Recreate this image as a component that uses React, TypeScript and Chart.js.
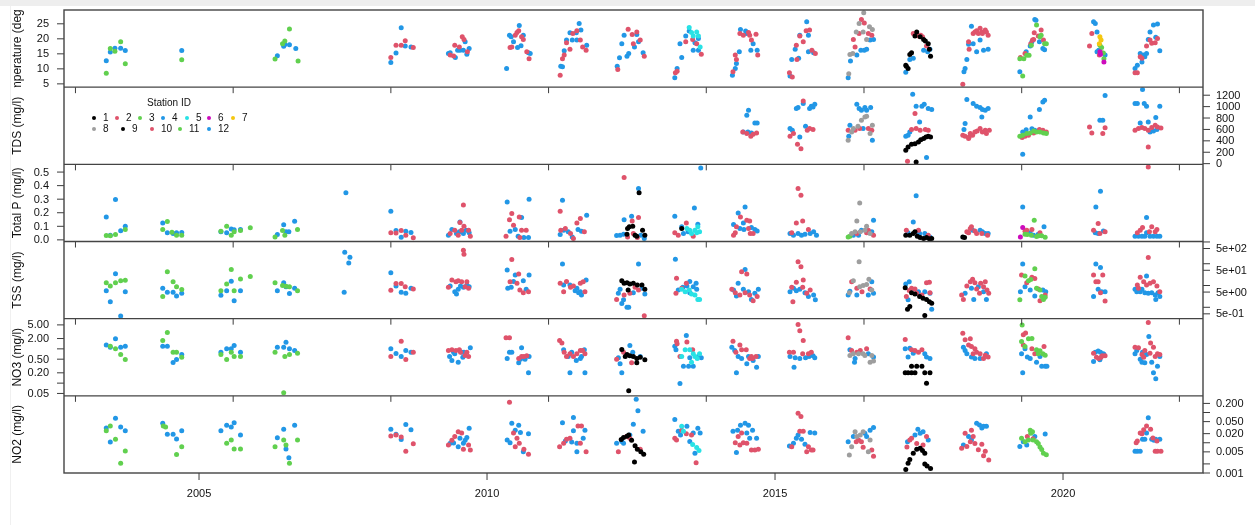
import React, { useEffect, useRef } from 'react';
import { Chart, registerables } from 'chart.js';

Chart.register(...registerables);

type Pt = [number, number];

// ---------------- Data: [decimal year, value] per station ----------------
// Temperature (deg C)
const temp_s1: Pt[] = [[2017.27,11.2],[2017.28,10.9],[2017.31,10.1],[2017.34,14.8],[2017.37,15.4],[2017.43,20.9],[2017.46,22.3],[2017.52,20.7],[2017.58,19.8],[2017.61,19.3],[2017.66,18.4],[2017.68,16.5],[2017.70,14.2]];
const temp_s2: Pt[] = [[2008.33,13.8],[2008.42,17.9],[2008.51,17.9],[2008.58,19.4],[2008.72,17.1],
[2009.36,14.6],[2009.42,14.3],[2009.44,17.9],[2009.52,17.3],[2009.57,20.7],[2009.60,19.8],[2009.66,15.7],
[2010.40,17.1],[2010.43,17.3],[2010.49,21.2],[2010.52,22.1],[2010.55,22.7],[2010.60,20.7],[2010.63,19.8],[2010.69,15.7],[2010.73,13.4],
[2011.27,7.9],[2011.31,13.4],[2011.34,14.6],[2011.38,18.7],[2011.44,16.5],[2011.49,21.8],[2011.56,22.7],[2011.62,19.6],[2011.66,17.3],[2011.72,16.2],
[2012.27,9.8],[2012.45,23.2],[2012.52,21.4],[2012.54,18.4],[2012.60,22.3],[2012.66,19.6],[2012.73,14.2],
[2013.27,8.7],[2013.30,9.2],[2013.45,19.0],[2013.57,19.8],[2013.64,18.4],[2013.72,14.9],
[2014.27,9.0],[2014.31,14.6],[2014.33,13.1],[2014.39,21.8],[2014.45,21.2],[2014.54,22.1],[2014.56,21.2],[2014.59,19.6],[2014.67,21.5],[2014.70,14.6],
[2015.25,8.7],[2015.30,7.3],[2015.37,17.9],[2015.38,13.1],[2015.43,20.9],[2015.49,19.0],[2015.54,22.7],[2015.60,22.9],[2015.64,16.2],[2015.70,15.1],
[2016.36,19.8],[2016.39,17.3],[2016.46,21.8],[2016.50,26.4],[2016.55,25.3],[2016.62,21.8],[2016.68,21.2],
[2017.40,21.8],[2017.49,20.9],[2017.53,21.2],[2017.56,20.7],[2017.63,17.6],
[2018.26,4.9],[2018.36,19.0],[2018.37,16.5],[2018.44,21.8],[2018.47,22.3],[2018.50,22.7],[2018.53,21.8],[2018.56,23.5],[2018.59,22.3],[2018.60,21.8],[2018.65,22.9],[2018.67,22.3],[2018.70,21.2],
[2019.26,13.8],[2019.34,15.1],[2019.44,18.4],[2019.47,19.6],[2019.49,19.8],[2019.50,22.0],[2019.57,20.9],[2019.62,22.9],[2019.66,19.6],
[2020.46,17.6],[2020.50,21.8],[2020.63,14.6],[2020.67,15.4],
[2021.25,8.7],[2021.29,8.7],[2021.34,14.0],[2021.37,13.5],[2021.45,17.6],[2021.51,19.6],[2021.54,18.5],[2021.60,18.7],[2021.64,20.1]];
const temp_s3: Pt[] = [[2003.39,8.5],[2003.46,16.8],[2003.54,15.9],[2003.64,19.0],[2003.72,11.7],[2004.70,13.0],
[2006.32,13.3],[2006.45,18.4],[2006.49,19.3],[2006.57,23.3],[2006.72,12.6],
[2019.25,13.4],[2019.30,7.6],[2019.32,13.4],[2019.37,14.5],[2019.41,14.5],[2019.45,17.9],[2019.54,24.6],[2019.60,20.7],[2019.62,21.2],[2019.68,18.4],[2019.71,18.4],
[2020.64,17.9],[2020.67,17.1],[2020.70,15.3],[2020.71,13.4]];
const temp_s4: Pt[] = [[2003.39,12.7],[2003.46,15.6],[2003.54,16.9],[2003.64,16.9],[2003.72,16.1],[2004.70,16.1],
[2006.36,14.4],[2006.47,17.5],[2006.49,18.1],[2006.57,18.0],[2006.68,16.8],
[2008.33,12.1],[2008.42,15.3],[2008.51,23.7],[2008.58,17.6],[2008.68,17.3],
[2009.33,15.1],[2009.36,15.4],[2009.45,13.8],[2009.49,16.2],[2009.53,16.2],[2009.59,16.2],[2009.62,19.0],[2009.65,14.9],[2009.69,16.8],
[2010.34,10.1],[2010.39,21.2],[2010.42,20.7],[2010.46,19.0],[2010.53,17.1],[2010.56,24.4],[2010.59,17.7],[2010.63,21.2],[2010.72,15.4],[2010.75,15.1],
[2011.28,10.9],[2011.31,10.7],[2011.34,16.0],[2011.38,19.6],[2011.44,22.0],[2011.48,19.6],[2011.55,22.0],[2011.56,19.6],[2011.60,25.1],[2011.63,22.9],[2011.73,17.9],
[2012.26,10.9],[2012.30,13.7],[2012.34,18.4],[2012.38,21.2],[2012.43,14.2],[2012.46,15.1],[2012.56,17.3],[2012.60,21.4],[2012.63,19.0],[2012.71,15.4],
[2013.26,7.0],[2013.30,10.1],[2013.35,18.4],[2013.38,13.8],[2013.45,20.9],[2013.51,22.6],[2013.58,16.2],[2013.61,18.7],[2013.67,16.2],[2013.67,20.1],
[2014.26,7.9],[2014.31,10.1],[2014.33,11.8],[2014.38,15.7],[2014.40,23.1],[2014.49,22.6],[2014.51,21.8],[2014.58,16.2],[2014.62,18.4],[2014.69,16.2],
[2015.26,7.6],[2015.29,13.1],[2015.35,16.5],[2015.41,13.5],[2015.43,21.2],[2015.55,25.7],[2015.58,21.2],[2015.58,15.7],[2015.67,15.4],
[2016.27,7.0],[2016.31,12.6],[2016.42,14.6],[2016.49,16.2],[2016.55,16.2],[2016.59,16.5],[2016.65,19.6],[2016.71,19.8],
[2017.27,8.9],[2017.34,13.1],[2017.40,13.5],[2017.58,16.2],[2017.65,15.7],[2017.69,16.5],
[2018.28,9.0],[2018.30,10.1],[2018.33,13.1],[2018.36,18.2],[2018.41,24.2],[2018.44,18.4],[2018.50,15.7],[2018.56,19.6],[2018.62,16.2],[2018.70,16.5],
[2019.25,9.0],[2019.36,15.7],[2019.43,17.6],[2019.46,19.0],[2019.51,26.4],[2019.53,26.2],[2019.59,19.0],[2019.65,16.8],[2019.68,16.4],
[2020.53,25.7],[2020.56,25.1],[2020.59,22.3],[2020.59,15.7],[2020.62,16.2],[2020.73,14.6],
[2021.25,10.1],[2021.29,11.2],[2021.34,15.1],[2021.37,12.3],[2021.40,14.6],[2021.42,14.0],[2021.45,15.1],[2021.48,19.8],[2021.51,22.3],[2021.57,24.6],[2021.61,20.5],[2021.64,24.9],[2021.68,16.0]];
const temp_s5: Pt[] = [[2013.51,23.8],[2013.55,22.1],[2013.58,20.9],[2013.64,22.3],[2013.67,20.9],[2013.70,17.3]];
const temp_s6: Pt[] = [[2020.64,15.7],[2020.65,14.9],[2020.71,12.3]];
const temp_s7: Pt[] = [[2020.63,18.4],[2020.64,20.7],[2020.66,19.6]];
const temp_s8: Pt[] = [[2016.28,8.4],[2016.30,14.8],[2016.35,15.1],[2016.41,22.3],[2016.46,25.1],[2016.53,22.3],[2016.54,28.7],[2016.59,19.8],[2016.64,24.0],[2016.69,23.1]];

// TDS (mg/l)
const tds_s1: Pt[] = [[2017.27,234],[2017.31,292],[2017.37,339],[2017.43,351],[2017.45,28],[2017.49,380],[2017.53,421],[2017.58,439],[2017.62,468],[2017.66,480],[2017.70,468]];
const tds_s2: Pt[] = [[2014.44,556],[2014.51,527],[2014.58,480],[2014.62,515],[2014.68,538],
[2015.26,480],[2015.32,527],[2015.39,339],[2015.45,263],[2015.49,1100],[2015.56,585],[2015.60,615],[2015.66,597],
[2016.27,585],[2016.39,585],[2016.47,615],[2016.62,615],[2016.68,585],
[2017.30,40],[2017.37,597],[2017.43,878],[2017.45,615],[2017.52,585],[2017.61,597],[2017.66,585],
[2018.26,497],[2018.30,480],[2018.36,439],[2018.37,468],[2018.39,527],[2018.43,497],[2018.47,556],[2018.51,573],[2018.56,615],[2018.60,556],[2018.65,585],[2018.67,527],[2018.72,585],
[2019.29,458],[2019.34,480],[2019.40,497],[2019.49,538],[2019.59,597],[2019.65,585],[2019.71,556],
[2020.46,643],[2020.50,538],[2020.69,527],[2020.73,631],
[2021.25,585],[2021.31,615],[2021.37,632],[2021.42,615],[2021.48,585],[2021.48,292],[2021.54,632],[2021.60,673],[2021.64,644],[2021.70,626]];
const tds_s3: Pt[] = [[2019.25,480],[2019.30,497],[2019.37,527],[2019.43,538],[2019.49,573],[2019.54,556],[2019.60,556],[2019.66,538],[2019.71,527]];
const tds_s4: Pt[] = [[2014.45,556],[2014.51,848],[2014.53,556],[2014.54,937],[2014.59,538],[2014.65,714],[2014.69,714],
[2015.26,615],[2015.30,585],[2015.37,966],[2015.40,984],[2015.43,468],[2015.49,1054],[2015.53,655],[2015.60,966],[2015.63,1007],[2015.66,995],[2015.69,1042],
[2016.28,480],[2016.30,673],[2016.42,1042],[2016.46,966],[2016.50,937],[2016.53,615],[2016.56,984],[2016.59,937],[2016.66,984],[2016.69,409],
[2017.27,480],[2017.31,497],[2017.34,556],[2017.39,1218],[2017.45,1007],[2017.51,731],[2017.55,1007],[2017.59,1042],[2017.63,110],[2017.66,966],[2017.72,948],
[2018.28,597],[2018.30,702],[2018.33,1124],[2018.44,1054],[2018.50,1007],[2018.56,984],[2018.59,819],[2018.60,948],[2018.65,937],[2018.70,966],
[2019.30,163],[2019.30,555],[2019.36,596],[2019.43,819],[2019.46,614],[2019.51,585],[2019.59,949],[2019.65,1083],[2019.68,1112],
[2020.64,761],[2020.69,761],[2020.73,1196],
[2021.25,1054],[2021.29,1054],[2021.34,714],[2021.38,1300],[2021.41,1054],[2021.45,1007],[2021.48,731],[2021.51,556],[2021.57,573],[2021.61,808],[2021.63,597],[2021.68,1007]];
const tds_s8: Pt[] = [[2016.27,409],[2016.33,556],[2016.36,615],[2016.44,655],[2016.50,761],[2016.56,819],[2016.59,831],[2016.65,527],[2016.69,673]];

// Total P (mg/l)
const p_s1: Pt[] = [[2012.43,0.042],[2012.44,0.084],[2012.47,0.096],[2012.53,0.10],[2012.57,0.035],[2012.60,0.027],[2012.64,0.348],[2012.70,0.071],[2012.74,0.035],[2013.38,0.084],
[2017.27,0.035],[2017.34,0.035],[2017.40,0.047],[2017.43,0.059],[2017.47,0.027],[2017.52,0.017],[2017.58,0.010],[2017.63,0.017],[2017.68,0.008],[2017.72,0.010],[2018.26,0.022],[2018.29,0.017]];
const p_s2: Pt[] = [[2008.33,0.052],[2008.42,0.05],[2008.51,0.069],[2008.59,0.035],[2008.72,0.016],
[2009.36,0.047],[2009.44,0.071],[2009.50,0.035],[2009.53,0.128],[2009.56,0.071],[2009.59,0.257],[2009.60,0.10],[2009.68,0.071],[2009.71,0.027],
[2010.33,0.027],[2010.39,0.149],[2010.43,0.194],[2010.46,0.108],[2010.56,0.169],[2010.57,0.017],[2010.60,0.071],[2010.68,0.071],
[2011.27,0.211],[2011.28,0.071],[2011.36,0.084],[2011.45,0.047],[2011.50,0.010],[2011.56,0.125],[2011.62,0.157],[2011.69,0.059],
[2012.38,0.459],[2012.44,0.022],[2012.52,0.140],[2012.54,0.047],[2012.61,0.017],[2012.63,0.165],
[2013.26,0.052],[2013.32,0.035],[2013.46,0.125],[2013.58,0.027],
[2014.28,0.035],[2014.31,0.052],[2014.33,0.096],[2014.40,0.169],[2014.51,0.145],[2014.54,0.084],[2014.56,0.140],[2014.57,0.047],[2014.62,0.047],
[2015.29,0.052],[2015.37,0.125],[2015.40,0.378],[2015.45,0.329],[2015.48,0.140],[2015.58,0.076],
[2016.42,0.047],[2016.59,0.052],[2016.62,0.071],[2016.71,0.035],
[2017.28,0.071],[2017.49,0.071],[2017.66,0.035],
[2018.33,0.059],[2018.36,0.052],[2018.39,0.084],[2018.41,0.096],[2018.47,0.066],[2018.50,0.047],[2018.59,0.047],[2018.69,0.035],
[2019.34,0.064],[2019.37,0.071],[2019.46,0.076],[2019.60,0.052],
[2020.53,0.071],[2020.61,0.121],[2020.64,0.047],[2020.73,0.059],
[2021.29,0.052],[2021.34,0.071],[2021.38,0.091],[2021.48,0.537],[2021.50,0.059],[2021.54,0.096],[2021.60,0.059],[2021.63,0.076]];
const p_s3: Pt[] = [[2003.39,0.032],[2003.46,0.03],[2003.55,0.04],[2003.72,0.076],[2004.37,0.077],[2004.45,0.135],[2004.53,0.057],[2004.61,0.035],[2004.70,0.035],
[2005.38,0.064],[2005.48,0.10],[2005.56,0.035],[2005.61,0.06],[2005.72,0.07],[2005.89,0.09],[2006.32,0.022],[2006.45,0.07],[2006.49,0.035],[2006.71,0.077],
[2016.27,0.022],[2016.30,0.027],[2019.34,0.042],[2019.38,0.04],[2019.45,0.035],[2019.50,0.145],[2019.54,0.024],[2019.58,0.03],[2019.63,0.03],[2019.69,0.02]];
const p_s4: Pt[] = [[2003.39,0.169],[2003.46,0.035],[2003.55,0.297],[2003.64,0.067],[2003.72,0.10],
[2004.37,0.125],[2004.45,0.052],[2004.55,0.047],[2004.61,0.052],[2004.70,0.054],
[2005.38,0.059],[2005.48,0.052],[2005.56,0.08],[2005.61,0.075],[2005.72,0.077],
[2006.36,0.04],[2006.47,0.112],[2006.51,0.06],[2006.56,0.06],[2006.66,0.138],
[2007.55,0.348],
[2008.33,0.211],[2008.42,0.069],[2008.51,0.02],[2008.59,0.064],[2008.68,0.054],
[2009.33,0.035],[2009.39,0.076],[2009.47,0.047],[2009.52,0.059],[2009.53,0.132],[2009.59,0.047],[2009.64,0.071],[2009.69,0.052],
[2010.35,0.28],[2010.40,0.064],[2010.49,0.076],[2010.54,0.027],[2010.60,0.165],[2010.64,0.017],[2010.72,0.017],[2010.73,0.30],
[2011.27,0.039],[2011.31,0.292],[2011.33,0.071],[2011.41,0.059],[2011.48,0.022],[2011.58,0.076],[2011.64,0.064],[2011.73,0.182],
[2012.25,0.032],[2012.31,0.035],[2012.37,0.042],[2012.38,0.149],[2012.51,0.174],[2012.63,0.378],[2012.67,0.035],[2012.73,0.010],
[2013.26,0.174],[2013.38,0.096],[2013.41,0.047],[2013.49,0.059],[2013.60,0.235],[2013.66,0.115],[2013.71,0.53],
[2014.28,0.113],[2014.36,0.199],[2014.39,0.084],[2014.45,0.125],[2014.46,0.076],[2014.48,0.243],[2014.59,0.091],[2014.65,0.076],[2014.69,0.066],
[2015.26,0.047],[2015.32,0.035],[2015.40,0.047],[2015.46,0.035],[2015.52,0.042],[2015.61,0.047],[2015.67,0.059],[2015.72,0.035],
[2016.36,0.035],[2016.45,0.035],[2016.50,0.071],[2016.68,0.059],[2016.71,0.145],
[2017.31,0.052],[2017.40,0.132],[2017.45,0.326],[2017.51,0.047],[2017.60,0.047],[2017.69,0.022],
[2018.43,0.071],[2018.56,0.071],[2018.60,0.059],[2018.65,0.047],[2018.70,0.047],
[2019.30,0.243],[2019.43,0.052],[2019.49,0.035],[2019.57,0.042],[2019.67,0.096],
[2020.56,0.052],[2020.57,0.243],[2020.61,0.047],[2020.65,0.358],[2020.70,0.066],
[2021.25,0.027],[2021.31,0.027],[2021.37,0.027],[2021.42,0.027],[2021.45,0.165],[2021.45,0.052],[2021.51,0.027],[2021.57,0.027],[2021.63,0.027],[2021.68,0.027]];
const p_s5: Pt[] = [[2013.47,0.084],[2013.52,0.071],[2013.55,0.047],[2013.61,0.071],[2013.64,0.052],[2013.66,0.096],[2013.69,0.059]];
const p_s6: Pt[] = [[2019.26,0.022],[2019.30,0.091]];
const p_s8: Pt[] = [[2016.33,0.047],[2016.39,0.059],[2016.42,0.140],[2016.47,0.272],[2016.48,0.059],[2016.56,0.071],[2016.59,0.10],[2016.65,0.047]];

// TSS (mg/l)
const tss_s1: Pt[] = [[2012.34,16.6],[2012.38,12.6],[2012.43,13.4],[2012.45,6.2],[2012.48,11.7],[2012.54,12.6],[2012.61,10.5],[2012.69,10.5],[2012.74,6.7],
[2017.26,7.9],[2017.30,0.81],[2017.34,1.1],[2017.37,4.7],[2017.43,4.1],[2017.51,3.1],[2017.57,2.6],[2017.60,0.42],[2017.63,2.3],[2017.68,1.8],[2017.72,1.54]];
const tss_s2: Pt[] = [[2008.33,6.1],[2008.42,12.5],[2008.51,12.5],[2008.58,8.8],[2008.72,6.9],
[2009.33,8.3],[2009.39,17.9],[2009.46,14.9],[2009.50,16.4],[2009.56,14.9],[2009.59,420],[2009.60,270],[2009.62,8.8],[2009.65,14.9],[2009.68,7.5],
[2010.40,14.9],[2010.43,157],[2010.52,12.6],[2010.55,33.6],[2010.57,6.2],[2010.63,4.7],[2010.72,5.2],
[2011.27,12.6],[2011.33,5.2],[2011.38,15.2],[2011.45,8.3],[2011.50,9.5],[2011.62,12.6],[2011.67,14.9],[2011.70,5.2],
[2012.25,2.3],[2012.38,3.7],[2012.48,4.4],[2012.57,8.3],[2012.63,6.2],[2012.73,0.41],
[2013.28,4.4],[2013.29,21.3],[2013.38,7.5],[2013.46,12.6],
[2014.25,6.7],[2014.31,4.7],[2014.39,3.7],[2014.42,42.6],[2014.48,4.7],[2014.51,33.6],[2014.56,3.7],[2014.62,2.0],[2014.69,3.1],
[2015.29,8.3],[2015.31,1.8],[2015.37,14],[2015.40,122],[2015.45,72],[2015.48,8.3],[2015.49,17.9],[2015.55,4.4],[2015.61,6.2],
[2016.33,15],[2016.42,7.4],[2016.51,5.2],[2016.65,6.9],
[2017.28,3.1],[2017.33,5.9],[2017.37,7.4],[2017.43,6.9],[2017.46,4.4],[2017.55,3.7],[2017.63,13.4],[2017.68,14],[2017.69,4.7],
[2018.24,3.7],[2018.27,2.3],[2018.33,9.5],[2018.39,15],[2018.43,19.2],[2018.47,13.4],[2018.50,6.9],[2018.55,4.4],[2018.57,12.6],[2018.62,8.8],[2018.65,15],[2018.68,6.3],[2018.71,4.4],
[2019.28,30],[2019.37,13.4],[2019.46,23.7],[2019.51,21],[2019.57,6.9],[2019.60,2.0],[2019.69,3.7],
[2020.53,30],[2020.57,15],[2020.61,15],[2020.65,4.7],[2020.69,30],[2020.73,1.96],
[2021.29,10.5],[2021.31,7.5],[2021.34,23.7],[2021.40,14.9],[2021.45,10.5],[2021.48,195],[2021.51,12.6],[2021.57,14.9],[2021.63,9.5],[2021.68,5.2]];
const tss_s3: Pt[] = [[2003.39,13.4],[2003.46,9.5],[2003.55,13.4],[2003.64,16.6],[2003.72,17.3],
[2004.37,3.1],[2004.45,42.8],[2004.55,14.9],[2004.61,8.8],[2004.70,6.5],
[2005.38,5.8],[2005.48,11.7],[2005.56,55],[2005.61,5.8],[2005.72,19.8],[2005.89,25.9],
[2006.32,13.4],[2006.45,10],[2006.51,9.2],[2006.57,8.8],[2006.71,5.8],
[2019.25,2.2],[2019.34,27],[2019.40,16.6],[2019.44,19],[2019.51,59],[2019.54,7.4],[2019.60,6.3],[2019.63,3.1],[2019.66,2.3],[2019.69,2.9]];
const tss_s4: Pt[] = [[2003.39,5.8],[2003.46,1.8],[2003.55,34.6],[2003.64,0.40],[2003.72,5.2],
[2004.37,7.4],[2004.45,4.9],[2004.55,4.9],[2004.61,3.3],[2004.70,4.4],
[2005.38,3.6],[2005.48,5.8],[2005.56,15.8],[2005.61,2.0],[2005.72,5.8],
[2006.36,5.8],[2006.47,13.4],[2006.51,8.8],[2006.57,4.3],[2006.66,7.4],
[2007.52,4.9],[2007.53,340],[2007.60,107],[2007.62,200],
[2008.33,38.5],[2008.42,9.5],[2008.51,4.9],[2008.59,4.4],[2008.68,7.4],
[2009.36,9.5],[2009.44,5.2],[2009.47,4.1],[2009.50,6.7],[2009.54,9.5],[2009.59,8.3],[2009.65,10.5],[2009.69,8.8],
[2010.35,51],[2010.36,7.5],[2010.42,8.3],[2010.46,15.2],[2010.49,30],[2010.63,16.6],[2010.68,6.7],[2010.73,30],
[2011.31,96],[2011.33,10.5],[2011.44,10.5],[2011.53,5.8],[2011.56,7.5],[2011.59,4.7],[2011.62,5.2],[2011.64,3.7],[2011.72,17.9],
[2012.28,4.4],[2012.31,6.7],[2012.34,1.5],[2012.37,2.2],[2012.43,1.0],[2012.46,1.0],[2012.54,4.7],[2012.63,96],[2012.69,7.5],[2012.74,4.1],
[2013.27,162],[2013.32,6.2],[2013.40,8.3],[2013.47,9.5],[2013.52,15.2],[2013.52,4.7],[2013.58,8.8],[2013.63,12.6],[2013.64,6.7],
[2014.28,6.2],[2014.33,3.3],[2014.36,12.6],[2014.45,6.7],[2014.48,55],[2014.54,5.2],[2014.59,2.3],[2014.65,4.4],[2014.71,6.7],
[2015.26,5.2],[2015.32,7.5],[2015.37,5.8],[2015.43,6.7],[2015.52,4.7],[2015.58,3.1],[2015.67,3.7],[2015.70,2.2],
[2016.27,3.7],[2016.30,5.5],[2016.42,3.7],[2016.62,3.7],[2016.68,15],[2016.71,4.4],
[2017.27,11.7],[2017.31,2.2],[2017.33,15],[2017.49,5.2],[2017.60,5.2],[2017.69,4.4],[2017.72,0.81],
[2018.30,4.4],[2018.41,7.4],[2018.45,2.3],[2018.53,8.8],[2018.62,5.2],[2018.67,2.3],
[2019.26,5.2],[2019.30,96],[2019.34,8.8],[2019.43,6.3],[2019.51,3.3],[2019.65,6.3],[2019.70,5.2],
[2020.53,3.1],[2020.57,96],[2020.61,6.7],[2020.65,68],[2020.67,5.2],[2020.73,5.2],
[2021.25,6.7],[2021.28,5.2],[2021.34,5.2],[2021.37,6.7],[2021.42,4.7],[2021.45,27],[2021.48,4.4],[2021.54,4.7],[2021.60,3.7],[2021.61,2.3],[2021.65,4.7],[2021.68,3.1]];
const tss_s5: Pt[] = [[2013.38,6.7],[2013.44,5.2],[2013.51,6.2],[2013.55,4.1],[2013.61,3.7],[2013.66,2.3],[2013.69,2.3]];
const tss_s8: Pt[] = [[2016.29,4.7],[2016.36,16.6],[2016.46,122],[2016.47,8.8],[2016.53,10],[2016.59,11],[2016.63,19.2],[2016.68,6.3]];

// NO3 (mg/l)
const no3_s1: Pt[] = [[2012.34,0.96],[2012.40,0.6],[2012.43,0.69],[2012.46,0.06],[2012.48,0.63],[2012.54,0.6],[2012.60,0.52],[2012.60,0.39],[2012.66,0.57],[2012.74,0.48],
[2017.26,0.2],[2017.31,0.2],[2017.37,0.2],[2017.37,0.31],[2017.43,0.2],[2017.46,0.31],[2017.55,0.31],[2017.60,0.2],[2017.63,0.10],[2017.69,0.2]];
const no3_s2: Pt[] = [[2008.33,0.6],[2008.51,1.67],[2008.59,0.49],[2008.72,0.8],
[2009.33,0.9],[2009.39,0.94],[2009.46,0.9],[2009.52,0.94],[2009.54,0.8],[2009.62,0.64],[2009.65,0.8],[2009.68,0.6],
[2010.33,2.1],[2010.39,2.1],[2010.55,0.52],[2010.60,0.6],[2010.64,0.6],[2010.69,0.63],
[2011.26,1.75],[2011.30,1.47],[2011.34,0.8],[2011.38,0.6],[2011.44,0.72],[2011.50,0.6],[2011.56,0.72],[2011.62,0.9],[2011.66,0.9],[2011.70,0.72],
[2012.25,0.5],[2012.37,0.8],[2012.51,0.39],
[2013.29,1.67],[2013.30,1.4],[2013.35,0.6],[2013.47,1.58],[2013.57,0.94],
[2014.27,1.67],[2014.32,0.8],[2014.39,1.3],[2014.42,0.94],[2014.50,0.94],[2014.56,0.52],[2014.59,0.6],[2014.61,0.52],[2014.67,0.6],
[2015.25,0.8],[2015.32,0.8],[2015.40,5.1],[2015.43,3.4],[2015.48,0.72],[2015.49,1.75],[2015.58,0.72],[2015.63,0.8],
[2016.27,2.1],[2016.33,0.9],[2016.42,0.8],[2016.48,0.9],[2016.59,1.0],
[2017.26,1.87],[2017.37,0.94],[2017.43,0.9],[2017.49,0.8],[2017.55,0.94],
[2018.26,2.86],[2018.30,1.84],[2018.36,1.3],[2018.39,1.96],[2018.41,1.17],[2018.44,0.72],[2018.47,1.0],[2018.50,0.8],[2018.56,0.72],[2018.62,0.52],[2018.65,0.65],[2018.70,0.58],
[2019.31,2.6],[2019.31,1.3],[2019.35,2.9],[2019.46,1.0],[2019.51,0.72],[2019.67,1.17],
[2020.53,0.75],[2020.58,0.57],[2020.62,0.52],[2020.66,0.57],[2020.68,0.63],[2020.73,0.63],
[2021.25,1.12],[2021.31,1.08],[2021.37,0.69],[2021.40,0.57],[2021.42,0.9],[2021.48,5.9],[2021.51,0.75],[2021.52,1.47],[2021.57,1.12],[2021.60,0.6],[2021.64,0.72],[2021.68,0.69]];
const no3_s3: Pt[] = [[2003.46,1.2],[2003.55,1.0],[2003.64,0.69],[2003.72,0.49],
[2004.37,1.75],[2004.45,3.0],[2004.55,0.8],[2004.61,0.8],[2004.70,0.57],
[2005.38,0.69],[2005.48,0.49],[2005.56,0.8],[2005.61,0.6],[2005.72,0.6],
[2006.32,0.8],[2006.47,0.052],[2006.49,0.6],[2006.57,0.69],[2006.71,0.75],
[2019.28,1.64],[2019.29,5.0],[2019.34,1.17],[2019.40,1.96],[2019.46,2.0],[2019.54,0.94],[2019.57,0.72],[2019.60,0.88],[2019.65,0.72],[2019.69,0.65]];
const no3_s4: Pt[] = [[2003.39,1.3],[2003.46,1.12],[2003.55,1.96],[2003.64,1.12],[2003.72,1.2],
[2004.37,1.2],[2004.45,1.2],[2004.55,0.40],[2004.61,0.49],[2004.70,0.69],
[2005.38,0.80],[2005.48,1.0],[2005.56,1.0],[2005.61,1.26],[2005.72,0.80],
[2006.36,1.12],[2006.47,1.12],[2006.51,1.57],[2006.57,1.0],[2006.66,0.9],
[2008.33,1.0],[2008.42,0.73],[2008.51,0.6],[2008.59,0.9],[2008.68,0.8],
[2009.35,0.6],[2009.39,0.46],[2009.42,0.80],[2009.44,0.72],[2009.50,0.41],[2009.56,0.8],[2009.58,0.57],[2009.60,0.8],[2009.71,1.08],
[2010.35,0.52],[2010.39,0.8],[2010.43,0.8],[2010.55,0.39],[2010.58,0.5],[2010.60,1.08],[2010.66,0.5],[2010.72,0.2],[2010.73,0.6],
[2011.33,0.94],[2011.41,0.6],[2011.44,0.2],[2011.47,0.8],[2011.55,0.46],[2011.62,0.52],[2011.64,0.6],[2011.69,0.94],[2011.70,0.2],
[2012.28,0.55],[2012.31,0.37],[2012.34,0.2],[2012.48,1.26],[2012.53,0.8],[2012.66,0.6],
[2013.26,1.2],[2013.28,0.94],[2013.35,0.098],[2013.41,0.31],[2013.46,2.45],[2013.50,0.31],[2013.52,0.55],[2013.58,0.31],[2013.67,0.6],[2013.72,0.55],
[2014.25,1.12],[2014.30,0.9],[2014.33,0.2],[2014.36,0.6],[2014.42,0.52],[2014.51,0.37],[2014.54,0.6],[2014.62,0.46],[2014.68,0.29],[2014.71,0.6],
[2015.26,0.6],[2015.33,0.29],[2015.35,0.55],[2015.43,0.52],[2015.53,0.55],[2015.59,0.6],[2015.66,0.63],[2015.69,0.55],
[2016.30,0.94],[2016.38,0.41],[2016.39,0.52],[2016.62,0.72],[2016.71,0.58],
[2017.26,1.0],[2017.31,0.58],[2017.34,1.05],[2017.40,0.75],[2017.60,0.72],[2017.63,0.58],[2017.69,0.52],
[2018.27,1.12],[2018.30,0.9],[2018.33,0.72],[2018.41,0.58],[2018.47,0.52],[2018.56,0.52],[2018.67,0.72],
[2019.28,0.72],[2019.30,0.2],[2019.34,1.0],[2019.38,0.58],[2019.43,0.52],[2019.54,0.41],[2019.60,0.6],[2019.63,0.31],[2019.69,0.31],[2019.72,0.31],
[2020.53,0.43],[2020.56,0.8],[2020.61,0.86],[2020.64,0.48],[2020.65,0.8],[2020.70,0.72],[2020.71,0.69],
[2021.25,0.72],[2021.28,0.9],[2021.34,0.5],[2021.37,0.41],[2021.38,0.8],[2021.42,0.39],[2021.45,0.69],[2021.49,2.3],[2021.54,0.41],[2021.57,0.2],[2021.61,0.135],[2021.64,0.31],[2021.68,0.6]];
const no3_s5: Pt[] = [[2013.38,0.6],[2013.44,0.94],[2013.52,0.94],[2013.55,0.41],[2013.58,0.72],[2013.61,0.6],[2013.65,0.52],[2013.69,0.72]];
const no3_s8: Pt[] = [[2016.30,0.64],[2016.36,0.72],[2016.45,0.72],[2016.53,0.72],[2016.56,0.64],[2016.65,0.41],[2016.68,0.64],[2016.71,0.44]];

// NO2 (mg/l)
const no2_s1: Pt[] = [[2012.33,0.0129],[2012.37,0.015],[2012.43,0.0165],[2012.46,0.018],[2012.51,0.012],[2012.56,0.0023],[2012.57,0.008],[2012.61,0.0061],[2012.67,0.005],[2012.72,0.0042],
[2017.27,0.0013],[2017.31,0.0021],[2017.34,0.0028],[2017.40,0.0045],[2017.46,0.0061],[2017.52,0.0066],[2017.56,0.0055],[2017.60,0.0045],[2017.60,0.002],[2017.64,0.0017],[2017.70,0.0014]];
const no2_s2: Pt[] = [[2008.33,0.0167],[2008.42,0.018],[2008.51,0.0155],[2008.59,0.0052],[2008.72,0.0093],
[2009.33,0.0084],[2009.39,0.012],[2009.44,0.016],[2009.50,0.023],[2009.56,0.021],[2009.59,0.0061],[2009.68,0.0084],[2009.71,0.0058],
[2010.39,0.22],[2010.46,0.021],[2010.49,0.0074],[2010.52,0.014],[2010.56,0.0096],[2010.64,0.0061],[2010.72,0.0042],
[2011.26,0.0074],[2011.33,0.0096],[2011.38,0.013],[2011.44,0.014],[2011.58,0.036],[2011.62,0.0096],[2011.64,0.036],[2011.72,0.005],
[2012.28,0.005],[2012.42,0.016],[2012.48,0.014],[2012.66,0.0061],
[2013.26,0.014],[2013.29,0.0123],[2013.38,0.026],[2013.46,0.02],[2013.55,0.018],[2013.63,0.0022],
[2014.31,0.01],[2014.36,0.016],[2014.39,0.0085],[2014.42,0.021],[2014.45,0.01],[2014.51,0.0096],[2014.59,0.0058],[2014.65,0.0058],[2014.71,0.0061],
[2015.29,0.0074],[2015.40,0.094],[2015.43,0.024],[2015.45,0.074],[2015.49,0.024],[2015.55,0.005],[2015.58,0.0074],[2015.63,0.0058],[2015.66,0.0058],
[2016.41,0.0108],[2016.45,0.0123],[2016.50,0.0108],[2016.53,0.0071],[2016.68,0.0058],[2016.71,0.0036],
[2017.29,0.0072],[2017.34,0.0123],[2017.37,0.014],[2017.46,0.0095],[2017.57,0.0085],[2017.63,0.016],
[2018.24,0.0066],[2018.30,0.0205],[2018.33,0.0075],[2018.39,0.0108],[2018.41,0.026],[2018.44,0.016],[2018.47,0.0095],[2018.53,0.0059],[2018.59,0.009],[2018.62,0.0037],[2018.65,0.0052],[2018.71,0.0027],
[2019.38,0.016],[2019.48,0.0135],
[2021.27,0.01],[2021.29,0.0114],[2021.34,0.021],[2021.37,0.02],[2021.40,0.027],[2021.45,0.036],[2021.52,0.028],[2021.56,0.0145],[2021.60,0.0052],[2021.63,0.0114],[2021.64,0.0052],[2021.70,0.0052]];
const no2_s3: Pt[] = [[2003.39,0.025],[2003.46,0.036],[2003.55,0.013],[2003.64,0.0021],[2003.72,0.0053],
[2004.38,0.036],[2004.42,0.033],[2004.61,0.0041],[2004.70,0.0074],
[2005.48,0.0096],[2005.56,0.0123],[2005.61,0.0062],[2005.72,0.0062],
[2006.32,0.0074],[2006.47,0.0123],[2006.51,0.0084],[2006.57,0.0021],[2006.71,0.0123],
[2019.28,0.014],[2019.34,0.0108],[2019.40,0.0123],[2019.43,0.026],[2019.44,0.0205],[2019.47,0.023],[2019.48,0.0123],[2019.54,0.0108],[2019.57,0.0095],[2019.60,0.0072],[2019.63,0.006],[2019.66,0.0045],[2019.71,0.004]];
const no2_s4: Pt[] = [[2003.39,0.031],[2003.46,0.0106],[2003.55,0.064],[2003.64,0.033],[2003.72,0.025],
[2004.37,0.044],[2004.45,0.019],[2004.55,0.019],[2004.61,0.0133],[2004.70,0.025],
[2005.38,0.025],[2005.48,0.038],[2005.56,0.033],[2005.61,0.046],[2005.72,0.018],
[2006.36,0.0147],[2006.47,0.028],[2006.51,0.0062],[2006.56,0.0032],[2006.66,0.038],
[2008.33,0.028],[2008.42,0.019],[2008.51,0.0127],[2008.59,0.04],[2008.68,0.027],
[2009.36,0.0096],[2009.42,0.0099],[2009.50,0.0074],[2009.53,0.014],[2009.59,0.0096],[2009.62,0.012],[2009.65,0.015],[2009.69,0.030],
[2010.35,0.0123],[2010.40,0.010],[2010.43,0.044],[2010.49,0.026],[2010.55,0.038],[2010.58,0.022],[2010.63,0.005],[2010.72,0.02],
[2011.31,0.046],[2011.36,0.0115],[2011.47,0.0105],[2011.50,0.025],[2011.50,0.069],[2011.56,0.0096],[2011.56,0.005],[2011.67,0.014],[2011.70,0.026],
[2012.25,0.0096],[2012.34,0.011],[2012.37,0.0096],[2012.48,0.018],[2012.54,0.041],[2012.59,0.275],[2012.62,0.114],[2012.71,0.024],
[2013.26,0.059],[2013.32,0.024],[2013.36,0.018],[2013.47,0.035],[2013.52,0.011],[2013.58,0.021],[2013.61,0.0045],[2013.66,0.03],[2013.70,0.021],
[2014.27,0.024],[2014.33,0.0048],[2014.35,0.026],[2014.40,0.038],[2014.48,0.044],[2014.51,0.021],[2014.54,0.038],[2014.56,0.014],[2014.61,0.026],[2014.68,0.014],
[2015.25,0.0078],[2015.32,0.0096],[2015.37,0.014],[2015.40,0.018],[2015.46,0.013],[2015.52,0.009],[2015.61,0.022],[2015.69,0.021],
[2016.27,0.0108],[2016.36,0.016],[2016.56,0.0205],[2016.59,0.016],[2016.65,0.026],[2016.71,0.032],
[2017.30,0.0108],[2017.43,0.018],[2017.48,0.028],[2017.52,0.0205],[2017.57,0.023],[2017.66,0.0123],
[2018.27,0.0084],[2018.36,0.016],[2018.41,0.0123],[2018.50,0.044],[2018.55,0.039],[2018.59,0.031],[2018.62,0.035],[2018.67,0.035],
[2019.25,0.0075],[2019.31,0.0108],[2019.37,0.0085],[2019.51,0.016],[2019.69,0.0194],
[2021.25,0.0052],[2021.29,0.0052],[2021.34,0.0052],[2021.38,0.013],[2021.42,0.013],[2021.45,0.021],[2021.48,0.067],[2021.54,0.013],[2021.58,0.012],[2021.61,0.013],[2021.68,0.013]];
const no2_s5: Pt[] = [[2013.38,0.035],[2013.41,0.024],[2013.57,0.0088],[2013.64,0.007],[2013.68,0.0055]];
const no2_s8: Pt[] = [[2016.29,0.0039],[2016.33,0.0074],[2016.39,0.023],[2016.42,0.016],[2016.48,0.018],[2016.53,0.023],[2016.62,0.005],[2016.65,0.0123]];

const NONE: Pt[] = [];

// ---------------- Ticks / labels ----------------
const tempTicks = [5, 10, 15, 20, 25];
const tempTickLabels = ['5', '10', '15', '20', '25'];
const tdsTicks = [0, 200, 400, 600, 800, 1000, 1200];
const tdsTickLabels = ['0', '200', '400', '600', '800', '1000', '1200'];
const pTicks = [0, 0.1, 0.2, 0.3, 0.4, 0.5];
const pTickLabels = ['0.0', '0.1', '0.2', '0.3', '0.4', '0.5'];
const tssTicks = [0.5, 1, 5, 10, 50, 100, 500, 1000];
const tssTickLabels = ['5e-01', '', '5e+00', '', '5e+01', '', '5e+02', ''];
const no3Ticks = [0.05, 0.1, 0.2, 0.5, 1, 2, 5];
const no3TickLabels = ['0.05', '', '0.20', '0.50', '', '2.00', '5.00'];
const no2Ticks = [0.001, 0.002, 0.005, 0.01, 0.02, 0.05, 0.1, 0.2];
const no2TickLabels = ['0.001', '', '0.005', '', '0.020', '0.050', '', '0.200'];
const yearTicks = [2005, 2010, 2015, 2020];
const dayTicks = [12000, 13000, 14000, 15000, 16000, 17000, 18000, 19000];
const legendLabels = ['1', '2', '3', '4', '5', '6', '7', '8', '9', '10', '11', '12'];

// ---------------- Layout / style ----------------
const W = 1255, H = 525;
const PLOT_LEFT = 64, PLOT_RIGHT = 1203, PLOT_TOP = 10, PLOT_BOTTOM = 473;
const X_MIN = 2002.656, X_MAX = 2022.43;
const FONT = '"Liberation Sans", Arial, Helvetica, sans-serif';
const AXIS_COLOR = '#3c3c3c';
const STATION_COLORS = ['#000000', '#DF536B', '#61D04F', '#2297E6', '#28E2E5', '#CD0BBC', '#F5C710', '#9E9E9E'];
const DRAW_ORDER = [1, 7, 6, 8, 2, 3, 4, 5];

const PANELS = [
  { id: 'yTemp', title: 'Temperature (deg C)', type: 'linear', min: 3.9, max: 29.6, side: 'left', ticks: tempTicks, labels: tempTickLabels,
    series: [temp_s1, temp_s2, temp_s3, temp_s4, temp_s5, temp_s6, temp_s7, temp_s8] },
  { id: 'yTDS', title: 'TDS (mg/l)', type: 'linear', min: -12, max: 1341, side: 'right', ticks: tdsTicks, labels: tdsTickLabels,
    series: [tds_s1, tds_s2, tds_s3, tds_s4, NONE, NONE, NONE, tds_s8] },
  { id: 'yP', title: 'Total P (mg/l)', type: 'linear', min: -0.012, max: 0.557, side: 'left', ticks: pTicks, labels: pTickLabels,
    series: [p_s1, p_s2, p_s3, p_s4, p_s5, p_s6, NONE, p_s8] },
  { id: 'yTSS', title: 'TSS (mg/l)', type: 'logarithmic', min: 0.328, max: 1050, side: 'right', ticks: tssTicks, labels: tssTickLabels,
    series: [tss_s1, tss_s2, tss_s3, tss_s4, tss_s5, NONE, NONE, tss_s8] },
  { id: 'yNO3', title: 'NO3 (mg/l)', type: 'logarithmic', min: 0.0426, max: 7.6, side: 'left', ticks: no3Ticks, labels: no3TickLabels,
    series: [no3_s1, no3_s2, no3_s3, no3_s4, no3_s5, NONE, NONE, no3_s8] },
  { id: 'yNO2', title: 'NO2 (mg/l)', type: 'logarithmic', min: 0.001, max: 0.356, side: 'right', ticks: no2Ticks, labels: no2TickLabels,
    series: [no2_s1, no2_s2, no2_s3, no2_s4, no2_s5, NONE, NONE, no2_s8] },
];

const decorPlugin = {
  id: 'decor',
  beforeDraw(chart: any) {
    const ctx = chart.ctx;
    ctx.save();
    ctx.fillStyle = '#ffffff';
    ctx.fillRect(0, 0, chart.width, chart.height);
    ctx.fillStyle = '#eeeeee';
    ctx.fillRect(0, 0, chart.width, 6);
    ctx.fillStyle = '#f0f0f0';
    ctx.fillRect(10, 6, 1, chart.height - 6);
    ctx.restore();
  },
  afterDraw(chart: any) {
    const ctx = chart.ctx;
    const a = chart.chartArea;
    const xs = chart.scales.x;
    ctx.save();
    ctx.strokeStyle = AXIS_COLOR;
    ctx.fillStyle = '#111';
    ctx.lineWidth = 1;

    PANELS.forEach((p, i) => {
      const s = chart.scales[p.id];
      const top = s.top, bottom = s.bottom;
      ctx.font = `11px ${FONT}`;
      ctx.textBaseline = 'middle';
      p.ticks.forEach((v: number, k: number) => {
        const y = s.getPixelForValue(v);
        ctx.beginPath();
        if (p.side === 'left') { ctx.moveTo(a.left - 7, y); ctx.lineTo(a.left, y); }
        else { ctx.moveTo(a.right, y); ctx.lineTo(a.right + 7, y); }
        ctx.stroke();
        const lab = p.labels[k];
        if (lab) {
          ctx.textAlign = p.side === 'left' ? 'right' : 'left';
          ctx.fillText(lab, p.side === 'left' ? a.left - 15 : a.right + 13, y + 0.5);
        }
      });
      if (i > 0) {
        dayTicks.forEach((d) => {
          const x = xs.getPixelForValue(1970 + d / 365.2425);
          ctx.beginPath();
          ctx.moveTo(x, top);
          ctx.lineTo(x, top + 6);
          ctx.stroke();
        });
      }
      ctx.save();
      ctx.beginPath();
      ctx.rect(0, top, 32, bottom - top);
      ctx.clip();
      ctx.translate(18, (top + bottom) / 2);
      ctx.rotate(-Math.PI / 2);
      ctx.textAlign = 'center';
      ctx.textBaseline = 'middle';
      ctx.font = `12px ${FONT}`;
      ctx.fillText(p.title, 0, 0);
      ctx.restore();
    });

    // panel frames
    ctx.lineWidth = 1.4;
    ctx.strokeStyle = '#444';
    ctx.strokeRect(a.left, a.top, a.right - a.left, a.bottom - a.top);
    PANELS.slice(1).forEach((p) => {
      const y = chart.scales[p.id].top;
      ctx.beginPath();
      ctx.moveTo(a.left, y);
      ctx.lineTo(a.right, y);
      ctx.stroke();
    });

    // bottom axis
    ctx.lineWidth = 1;
    ctx.strokeStyle = AXIS_COLOR;
    ctx.font = `11px ${FONT}`;
    ctx.textAlign = 'center';
    ctx.textBaseline = 'middle';
    yearTicks.forEach((yr) => {
      const x = xs.getPixelForValue(yr);
      ctx.beginPath();
      ctx.moveTo(x, a.bottom);
      ctx.lineTo(x, a.bottom + 7);
      ctx.stroke();
      ctx.fillText(String(yr), x, a.bottom + 21);
    });

    // legend
    ctx.font = `10px ${FONT}`;
    ctx.textAlign = 'center';
    ctx.fillText('Station ID', 169, 103);
    const row1 = [94, 117, 140, 163, 187, 209, 233];
    const row2 = [94, 123, 152, 180, 209];
    ctx.textAlign = 'left';
    legendLabels.forEach((lab, k) => {
      const x = k < 7 ? row1[k] : row2[k - 7];
      const y = k < 7 ? 118 : 129;
      ctx.fillStyle = STATION_COLORS[k % 8];
      ctx.beginPath();
      ctx.arc(x, y, 2, 0, Math.PI * 2);
      ctx.fill();
      ctx.fillStyle = '#111';
      ctx.fillText(lab, x + 9, y + 0.5);
    });
    ctx.restore();
  },
};

export default function App() {
  const ref = useRef<HTMLCanvasElement | null>(null);
  useEffect(() => {
    if (!ref.current) return;
    const datasets: any[] = [];
    PANELS.forEach((p) => {
      p.series.forEach((arr, si) => {
        if (!arr.length) return;
        datasets.push({
          label: `${p.id}-${si + 1}`,
          data: arr.map(([x, y]) => ({ x, y })),
          xAxisID: 'x',
          yAxisID: p.id,
          showLine: false,
          pointRadius: 2.5,
          pointBorderWidth: 0,
          pointBackgroundColor: STATION_COLORS[si],
          backgroundColor: STATION_COLORS[si],
          borderColor: STATION_COLORS[si],
          order: DRAW_ORDER[si],
        });
      });
    });
    const scales: any = {
      x: { type: 'linear', min: X_MIN, max: X_MAX, display: false },
    };
    PANELS.forEach((p, pi) => {
      scales[p.id] = {
        type: p.type,
        min: p.min,
        max: p.max,
        display: false,
        position: 'left',
        stack: 'panels',
        stackWeight: 1,
        weight: 6 - pi,
      };
    });
    const chart = new Chart(ref.current, {
      type: 'scatter',
      data: { datasets },
      options: {
        animation: false,
        responsive: false,
        events: [],
        layout: { padding: { left: PLOT_LEFT, right: W - PLOT_RIGHT, top: PLOT_TOP, bottom: H - PLOT_BOTTOM } },
        plugins: { legend: { display: false }, tooltip: { enabled: false } },
        scales,
      },
      plugins: [decorPlugin],
    } as any);
    return () => chart.destroy();
  }, []);
  return (
    <div style={{ position: 'fixed', left: 0, top: 0, width: W, height: H, background: '#fff' }}>
      <canvas ref={ref} width={W} height={H} style={{ display: 'block', width: W, height: H }} />
    </div>
  );
}
